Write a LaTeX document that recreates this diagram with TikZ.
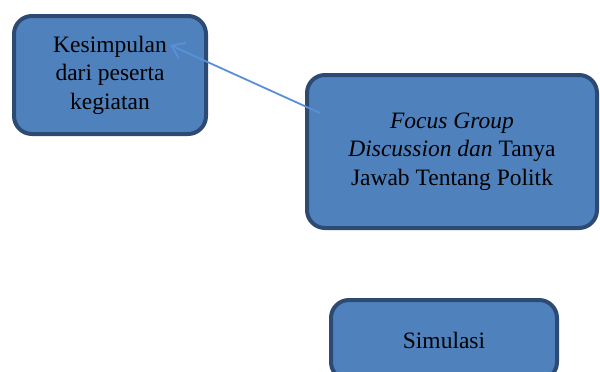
\documentclass[tikz,border=0pt]{standalone}
\usepackage{fontspec}
\setmainfont{Liberation Serif}
\usepackage{xcolor}
\usetikzlibrary{positioning}
\usetikzlibrary{arrows.meta}

\definecolor{boxfill}{HTML}{4F81BD}
\definecolor{boxline}{HTML}{2C4A72}
\definecolor{arrowblue}{HTML}{5890D8}

\tikzset{
  kotak/.style={draw=boxline, fill=boxfill, line width=4pt, rounded corners=18pt,
    align=center, text=black, font=\fontsize{23.5}{28.5}\selectfont},
  panah/.style={draw=arrowblue, line width=1.8pt, -{Straight Barb[length=12pt,width=17pt]}}
}

\begin{document}
\begin{tikzpicture}[x=1pt,y=-1pt]
            \useasboundingbox (0,0) rectangle (600,372);

            % kotak-kotak
            \node[kotak, minimum width=192pt, minimum height=118pt] (kesimpulan) at (110,75)
                {Kesimpulan\\dari peserta\\kegiatan};
            \node[kotak, minimum width=290pt, minimum height=153pt] (fgd) at (452,151.5)
                {\textit{Focus Group}\\\textit{Discussion dan} Tanya\\Jawab Tentang Politk};
            \node[kotak, minimum width=226pt, minimum height=80pt] (simulasi) at (444,340)
                {Simulasi};

            % panah
            \draw[panah] ([shift={(15,-38.5)}]fgd.west) -- ([shift={(-38,31)}]kesimpulan.north east);
    \end{tikzpicture}
\end{document}
